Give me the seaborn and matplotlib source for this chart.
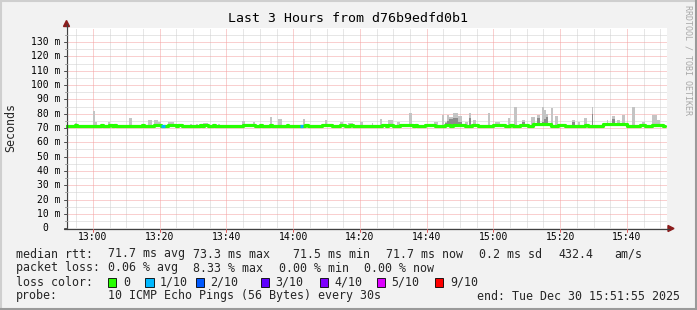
import numpy as np
import pandas as pd
import matplotlib
matplotlib.use("Agg")
import matplotlib.pyplot as plt
from matplotlib.patches import Polygon, Rectangle
from matplotlib.lines import Line2D
import seaborn as sns

# ---------------- data (times in minutes after 13:00, values in ms) ----------------
t_start, t_end = -8.08, 171.92
data_start, data_end = -8.0, 171.4
median_base = 71.7

bump_start = [-5.4, 2.4, 4.9, 6.4, 14.7, 18.4, 22.4, 25.4, 32.0, 33.4, 36.0, 45.0, 50.0, 53.0,
              58.0, 63.5, 68.5, 74.0, 77.0, 86.5, 88.4, 92.0, 96.5, 99.5, 105.5, 107.9, 113.5,
              119.8, 125.0, 128.0, 131.8, 139.3, 147.4, 152.8, 163.9, 167.4]
bump_end = [-4.8, 3.0, 5.6, 6.9, 15.2, 20.5, 24.9, 26.8, 32.7, 34.5, 36.6, 48.5, 50.7, 53.7,
            58.5, 64.4, 71.5, 75.5, 78.0, 87.8, 89.9, 96.0, 97.0, 102.5, 107.0, 111.5, 115.4,
            123.4, 125.8, 130.3, 137.4, 141.4, 148.3, 160.0, 165.4, 170.9]
bump_val = [72.3, 72.3, 72.3, 72.3, 72.3, 72.3, 72.3, 72.3, 72.3, 72.3, 72.3, 72.3, 72.3, 72.3,
            72.3, 72.3, 72.3, 72.3, 72.3, 72.3, 72.3, 72.3, 72.3, 72.3, 72.3, 72.3, 72.3,
            72.3, 72.3, 72.3, 72.6, 72.3, 72.3, 72.7, 72.3, 72.3]

loss_start = [20.5, 62.0]
loss_end = [21.5, 63.0]
loss_col = ["#00b8ff", "#00b8ff"]

smoke_start = [-5.4, -0.1, 0.5, 4.4, 10.9, 16.4, 18.4, 19.4, 22.4, 29.0, 31.0, 33.0, 37.5,
               44.8, 47.9, 53.0, 55.3, 62.8, 69.5, 74.0, 76.4, 80.0, 83.5, 86.0, 88.5, 91.0,
               94.8, 102.3, 104.5, 105.5, 106.0, 106.7, 108.0, 109.5, 111.5, 112.7, 113.8,
               118.3, 120.4, 124.3, 126.2, 128.7, 131.4, 133.0, 134.6, 135.2, 135.9, 137.4,
               138.4, 143.4, 145.4, 147.2, 149.4, 153.9, 155.4, 156.9, 158.4, 161.6, 164.4,
               167.4, 168.9]
smoke_end = [-4.8, 0.5, 1.1, 5.0, 11.6, 17.6, 19.4, 20.4, 24.4, 29.7, 31.6, 34.5, 38.0,
             45.5, 48.5, 53.7, 56.7, 63.5, 70.2, 75.0, 77.9, 80.8, 83.8, 86.7, 89.8, 92.0,
             95.5, 103.3, 105.3, 106.0, 106.7, 108.0, 109.5, 110.7, 112.3, 113.4, 114.9,
             119.0, 122.0, 125.0, 127.0, 129.4, 132.4, 134.0, 135.2, 135.9, 136.4, 137.9,
             139.2, 144.4, 145.9, 147.9, 149.9, 154.4, 156.4, 157.9, 159.4, 162.4, 165.4,
             168.9, 169.9]
smoke_top = [73.5, 81.9, 74.2, 74.0, 77.2, 75.6, 75.6, 74.0, 74.0, 73.0, 73.0, 73.5, 73.0,
             75.1, 74.5, 77.9, 76.5, 76.3, 75.6, 74.0, 73.7, 74.0, 73.7, 76.3, 75.6, 74.0,
             80.7, 74.5, 79.0, 74.0, 79.0, 77.8, 80.2, 78.3, 74.5, 80.7, 75.6,
             80.2, 74.0, 76.7, 84.4, 75.6, 77.8, 79.0, 84.9, 82.6, 79.6, 83.7,
             78.3, 75.6, 74.0, 76.7, 84.4, 75.6, 78.3, 75.6, 79.0, 84.4, 74.0,
             79.0, 75.6]
smoke_dark = [np.nan, np.nan, np.nan, np.nan, np.nan, np.nan, np.nan, np.nan, np.nan, np.nan,
              np.nan, np.nan, np.nan, np.nan, np.nan, np.nan, np.nan, np.nan, np.nan, np.nan,
              np.nan, np.nan, np.nan, np.nan, np.nan, np.nan, np.nan, np.nan, np.nan, 73.5,
              75.0, 76.0, 77.0, 74.0, np.nan, 77.0, np.nan, np.nan, np.nan, np.nan, np.nan,
              74.5, np.nan, 77.0, 74.0, 76.0, 78.0, np.nan, np.nan, 74.0, np.nan, np.nan,
              80.0, np.nan, 76.0, np.nan, np.nan, np.nan, np.nan, np.nan, np.nan]

x_tick_pos = [0, 20, 40, 60, 80, 100, 120, 140, 160]
x_tick_lab = ["13:00", "13:20", "13:40", "14:00", "14:20", "14:40", "15:00", "15:20", "15:40"]
y_tick_pos = [0, 10, 20, 30, 40, 50, 60, 70, 80, 90, 100, 110, 120, 130]
y_tick_lab = ["0  "] + [f"{v} m" for v in y_tick_pos[1:]]

title = "Last 3 Hours from d76b9edfd0b1"
legend_rows = [
    [(15.6, "median rtt:"), (107.5, "71.7 ms avg"), (193, "73.3 ms max"), (293, "71.5 ms min"),
     (386, "71.7 ms now"), (479, "0.2 ms sd"), (558, "432.4"), (614, "am/s")],
    [(15.6, "packet loss:"), (107.5, "0.06 % avg"), (193, "8.33 % max"), (279, "0.00 % min"),
     (364, "0.00 % now")],
    [(15.6, "loss color:")],
    [(15.6, "probe:"), (107.5, "10 ICMP Echo Pings (56 Bytes) every 30s")],
]
loss_labels = ["0", "1/10", "2/10", "3/10", "4/10", "5/10", "9/10"]
loss_colors = ["#26ff00", "#00b8ff", "#0059ff", "#5e00ff", "#7e00ff", "#dd00ff", "#ff0000"]
loss_box_x = [108, 145.3, 195.6, 261, 320, 377, 435]
loss_text_x = [123.6, 160, 210, 275.6, 334, 391, 450]

# ---------------- figure ----------------
W, H = 697, 310
sns.set_style("white")
plt.rcParams["font.family"] = ["DejaVu Sans Mono", "DejaVu Sans"]
fig = plt.figure(figsize=(W / 100, H / 100), dpi=100)
fig.patch.set_facecolor("#f2f2f2")

def fx(x):
    return x / W

def fy(y):
    return 1 - y / H

ax_l, ax_r, ax_t, ax_b = 66.0, 666.7, 27.7, 228.3
ax = fig.add_axes([fx(ax_l), fy(ax_b), (ax_r - ax_l) / W, (ax_b - ax_t) / H])
ax.set_facecolor("white")
ax.set_xlim(t_start, t_end)
ax.set_ylim(0, 140)
for s in ax.spines.values():
    s.set_visible(False)
ax.set_xticks([])
ax.set_yticks([])

# grid
for m in np.arange(-5, 172, 5):
    if m % 20 == 0:
        continue
    ax.axvline(m, color="#cfcfcf", lw=0.72, ls=(0, (1, 1)), zorder=0)
for v in np.arange(5, 140, 10):
    ax.axhline(v, color="#cfcfcf", lw=0.72, ls=(0, (1, 1)), zorder=0)
for m in x_tick_pos:
    ax.axvline(m, color="#f4a0a0", lw=0.72, ls=(0, (1, 1)), zorder=0.5)
for v in y_tick_pos[1:]:
    ax.axhline(v, color="#f4a0a0", lw=0.72, ls=(0, (1, 1)), zorder=0.5)

# smoke
smoke = pd.DataFrame({"start": smoke_start, "end": smoke_end, "top": smoke_top, "dark": smoke_dark})
bottom = 71.2
ax.bar(smoke["start"], smoke["top"] - bottom, bottom=bottom, width=smoke["end"] - smoke["start"],
       align="edge", color="#c4c4c4", linewidth=0, zorder=2)
dk = smoke.dropna()
ax.bar(dk["start"], dk["dark"] - bottom, bottom=bottom, width=dk["end"] - dk["start"],
       align="edge", color="#8c8c8c", linewidth=0, zorder=2.5)

# median line (step function from base + bumps)
ts, vs = [data_start], [median_base]
for s, e, v in zip(bump_start, bump_end, bump_val):
    ts += [s, e]
    vs += [v, median_base]
ts.append(data_end)
vs.append(median_base)
med = pd.DataFrame({"t": ts, "ms": vs})
sns.lineplot(data=med, x="t", y="ms", drawstyle="steps-post", color="#26ff00",
             linewidth=2.3, ax=ax, zorder=3, estimator=None, sort=False)
for s, e, c in zip(loss_start, loss_end, loss_col):
    ax.hlines(median_base, s, e, color=c, lw=2.3, zorder=4)
ax.set_xlabel("")
ax.set_ylabel("")
ax.set_xlim(t_start, t_end)
ax.set_ylim(0, 140)

# axes lines and arrows (figure pixel coords)
def fline(x0, y0, x1, y1, **kw):
    fig.add_artist(Line2D([fx(x0), fx(x1)], [fy(y0), fy(y1)], transform=fig.transFigure, **kw))

fline(66.5, 228.5, 66.5, 24, color="#404040", lw=0.9)
fline(64, 228.5, 669, 228.5, color="#404040", lw=0.9)
fig.add_artist(Polygon([[fx(63.5), fy(26.5)], [fx(69.5), fy(26.5)], [fx(66.5), fy(20.5)]],
                       closed=True, transform=fig.transFigure, color="#8b1c1c"))
fig.add_artist(Polygon([[fx(668), fy(225.5)], [fx(668), fy(231.5)], [fx(674), fy(228.5)]],
                       closed=True, transform=fig.transFigure, color="#8b1c1c"))

# y ticks/labels
for v, lab in zip(y_tick_pos, y_tick_lab):
    yp = ax_b - v * (ax_b - ax_t) / 140
    fline(63.5, yp, 66.5, yp, color="#505050", lw=0.72)
    fig.text(fx(60.5), fy(yp), lab, ha="right", va="center", fontsize=7, color="#000000")
for v in np.arange(5, 140, 10):
    yp = ax_b - v * (ax_b - ax_t) / 140
    fline(64.5, yp, 66.5, yp, color="#a0a0a0", lw=0.72)

# x ticks/labels
for m, lab in zip(x_tick_pos, x_tick_lab):
    xp = ax_l + (m - t_start) * (ax_r - ax_l) / (t_end - t_start)
    fline(xp, 228.5, xp, 231.5, color="#e06060", lw=0.72)
    fig.text(fx(xp), fy(237.5), lab, ha="center", va="center", fontsize=7, color="#000000")

# texts
fig.text(fx(348), fy(19), title, ha="center", va="center", fontsize=9.5, color="#000000")
fig.text(fx(11), fy(127), "Seconds", ha="center", va="center", rotation=90, fontsize=8.4)
fig.text(fx(688), fy(60), "RRDTOOL / TOBI OETIKER", ha="center", va="center", rotation=-90,
         fontsize=6, color="#a8a8a8")

row_y = [254, 268, 282, 296]
for ry, row in zip(row_y, legend_rows):
    for x, s in row:
        fig.text(fx(x), fy(ry), s, ha="left", va="center", fontsize=8.4)
for bx, tx, lab, c in zip(loss_box_x, loss_text_x, loss_labels, loss_colors):
    fig.add_artist(Rectangle((fx(bx), fy(286.7)), 8.4 / W, 8.4 / H, transform=fig.transFigure,
                             facecolor=c, edgecolor="#000000", lw=0.6))
    fig.text(fx(tx), fy(282), lab, ha="left", va="center", fontsize=8.4)
fig.text(fx(680), fy(296), "end: Tue Dec 30 15:51:55 2025", ha="right", va="center", fontsize=8.4)

# border
fig.add_artist(Line2D([0, 1], [fy(1), fy(1)], transform=fig.transFigure, color="#cfcfcf", lw=1.5))
fig.add_artist(Line2D([fx(1), fx(1)], [0, 1], transform=fig.transFigure, color="#cfcfcf", lw=1.5))
fig.add_artist(Line2D([0, 1], [fy(309), fy(309)], transform=fig.transFigure, color="#9a9a9a", lw=1.5))
fig.add_artist(Line2D([fx(696), fx(696)], [0, 1], transform=fig.transFigure, color="#9a9a9a", lw=1.5))

fig.savefig("out.png", dpi=100, facecolor=fig.get_facecolor())
